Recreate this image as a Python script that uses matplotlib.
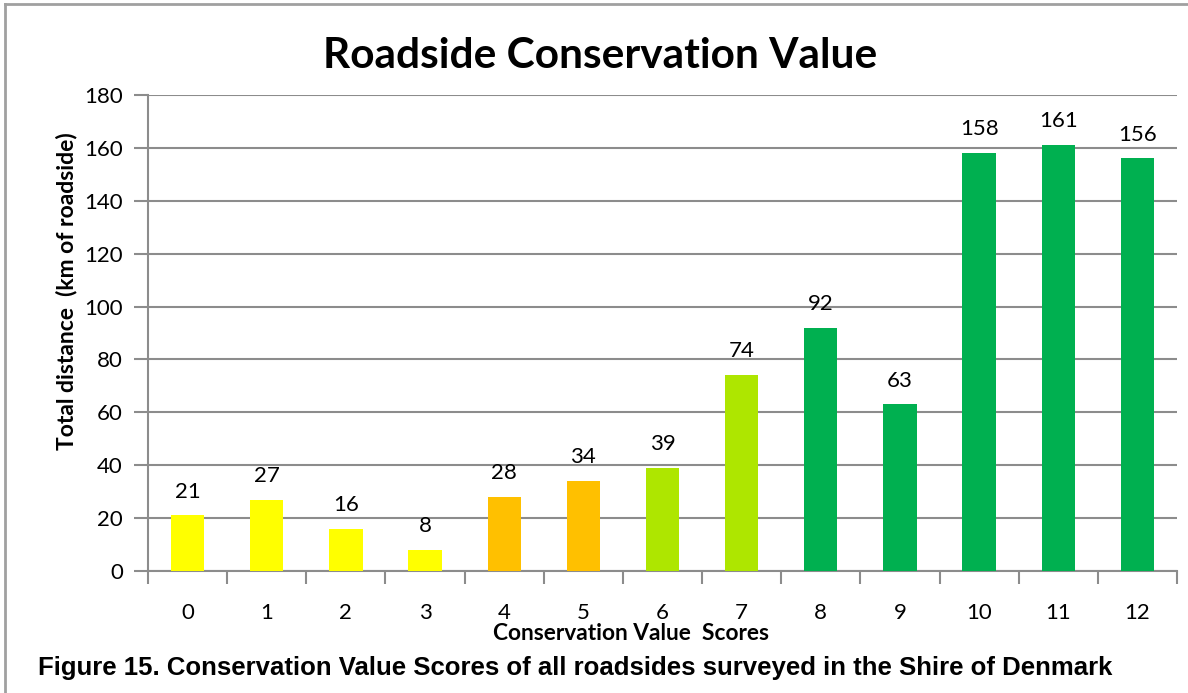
import matplotlib
matplotlib.use("Agg")
import matplotlib.pyplot as plt
from matplotlib.lines import Line2D

categories = ["0", "1", "2", "3", "4", "5", "6", "7", "8", "9", "10", "11", "12"]
values = [21, 27, 16, 8, 28, 34, 39, 74, 92, 63, 158, 161, 156]
colors = ["#FFFF00", "#FFFF00", "#FFFF00", "#FFFF00",
          "#FFC000", "#FFC000",
          "#AEE600", "#AEE600",
          "#00B050", "#00B050", "#00B050", "#00B050", "#00B050"]
yticks = [0, 20, 40, 60, 80, 100, 120, 140, 160, 180]

W, H = 1188, 693
fig = plt.figure(figsize=(W / 100, H / 100), dpi=100)
fig.patch.set_facecolor("white")

font = ["Lato", "DejaVu Sans"]
cap_font = ["Liberation Sans Narrow", "Liberation Sans", "DejaVu Sans"]

ax = fig.add_axes([148 / W, 1 - 571 / H, (1177 - 148) / W, (571 - 95) / H])
x = list(range(len(categories)))
bars = ax.bar(x, values, width=0.42, color=colors, zorder=3)
ax.set_xlim(-0.5, len(categories) - 0.5)
ax.set_ylim(0, 180)
ax.set_yticks(yticks)
ax.set_yticklabels([str(t) for t in yticks], fontsize=16, family=font)
ax.yaxis.grid(True, color="#8C8C8C", linewidth=1.5, zorder=0)
for s in ["top", "right"]:
    ax.spines[s].set_visible(False)
for s in ["left", "bottom"]:
    ax.spines[s].set_color("#8C8C8C")
    ax.spines[s].set_linewidth(1.5)
ax.tick_params(axis="y", length=10, width=1.5, color="#8C8C8C", pad=8)
# x ticks between categories
ax.set_xticks([i + 0.5 for i in range(-1, len(categories))])
ax.set_xticklabels([])
ax.tick_params(axis="x", length=9, width=1.5, color="#8C8C8C")
for i, c in enumerate(categories):
    ax.annotate(c, (i, 0), xytext=(0, -30), textcoords="offset points",
                ha="center", va="center", fontsize=16, family=font, annotation_clip=False)
for i, v in enumerate(values):
    ax.annotate(str(v), (i, v), xytext=(0, 10), textcoords="offset points",
                ha="center", va="bottom", fontsize=16, family=font)

fig.text(600 / W, 1 - 56 / H, "Roadside Conservation Value", ha="center", va="center",
         fontsize=30.5, fontweight="bold", family=font)
fig.text(67 / W, 1 - 291 / H, "Total distance  (km of roadside)", ha="center", va="center",
         rotation=90, fontsize=16.5, fontweight="bold", family=font)
fig.text(631 / W, 1 - 633 / H, "Conservation Value  Scores", ha="center", va="center",
         fontsize=16.4, fontweight="bold", family=font)
fig.text(38 / W, 1 - 668 / H,
         "Figure 15. Conservation Value Scores of all roadsides surveyed in the Shire of Denmark",
         ha="left", va="center", fontsize=18.5, fontweight="bold", family=cap_font)

# partial chart frame
fig.add_artist(Line2D([5 / W, 1], [1 - 4 / H, 1 - 4 / H], color="#A0A0A0", linewidth=2,
                      transform=fig.transFigure))
fig.add_artist(Line2D([5 / W, 5 / W], [0, 1 - 4 / H], color="#A0A0A0", linewidth=2,
                      transform=fig.transFigure))

fig.savefig("out.png", dpi=100)
